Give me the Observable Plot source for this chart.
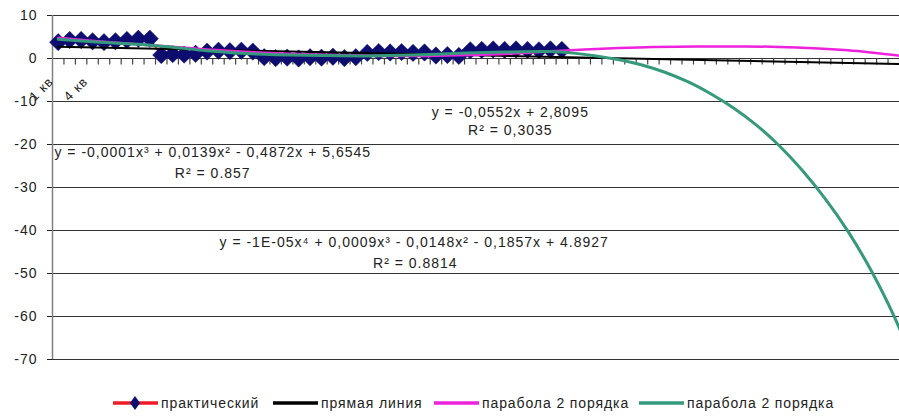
<!DOCTYPE html>
<html><head><meta charset="utf-8">
<script src="https://cdn.jsdelivr.net/npm/d3@7"></script>
<script src="https://cdn.jsdelivr.net/npm/@observablehq/plot@0.6"></script>
<style>
body{margin:0;background:#fff;font-family:"Liberation Sans",Arial,sans-serif;}
#wrap{position:relative;width:899px;height:418px;overflow:hidden;}
#chart svg text{letter-spacing:1px;}
.lg{position:absolute;top:393px;height:20px;display:flex;align-items:center;font-size:14px;letter-spacing:0.9px;color:#222;white-space:nowrap;}
.lg svg{margin-right:3px;}
</style></head><body>
<div id="wrap"><div id="chart"></div><div id="legend"></div></div>
<script>
// ---- data ----
const practicalValues = [
  3.8, 4.3, 4.3, 4.0, 3.8, 4.0, 4.3, 4.6, 4.6,
  0.8, 1.0, 0.9, 1.1,
  1.6, 1.8, 1.7, 1.8, 1.6,
  0.3, 0.1, 0.2, 0.0, 0.3, 0.2, 0.4, 0.1, 0.3,
  1.3, 1.5, 1.4, 1.5, 1.3, 1.4,
  0.7, 0.8, 0.6,
  1.9, 2.0, 2.1, 2.0, 2.1, 2.0, 1.9, 2.1, 2.0
];
const linearX = [1, 75];
const linearY = [2.75, -1.33];
const cubicX = [1, 5, 9, 13, 17, 21, 25, 29, 33, 37, 41, 44, 47, 50, 53, 57, 61, 64, 67, 70, 72, 74, 75];
const cubicY = [4.8, 3.9, 3.1, 2.3, 1.6, 1.1, 0.8, 0.6, 0.6, 0.8, 1.2, 1.7, 2.1, 2.45, 2.7, 2.8, 2.8, 2.7, 2.4, 1.9, 1.4, 0.8, 0.4];
const quarticX = [1, 4, 8, 11, 14, 17, 20, 24, 28, 32, 36, 40, 44, 46, 48, 50, 52, 54, 56, 58, 60, 62, 64, 66, 68, 70, 72, 74, 75];
const quarticY = [4.5, 3.9, 3.3, 2.6, 1.8, 1.2, 0.9, 0.7, 0.6, 0.8, 1.2, 1.5, 1.6, 1.25, 0.6, -0.3, -1.5, -3.2, -5.4, -8.2, -11.5, -15.5, -20.3, -26, -32.6, -40.2, -49.2, -59.8, -66];
const xLabelText = ["1 кв", "4 кв"];
const xLabelAt = [1, 4];
const yTicks = [10, 0, -10, -20, -30, -40, -50, -60, -70];
const categoryCount = 74;
const eqText = [
  "y = -0,0552x + 2,8095", "R² = 0,3035",
  "y = -0,0001x³ + 0,0139x² - 0,4872x + 5,6545", "R² = 0.857",
  "y = -1E-05x⁴ + 0,0009x³ - 0,0148x² - 0,1857x + 4.8927", "R² = 0.8814"
];
const eqX = [40.5, 40.5, 14.5, 14.5, 32.1, 32.2];
const eqY = [-12.6, -16.7, -21.9, -26.7, -42.7, -47.6];
const legendNames = ["практический", "прямая линия", "парабола 2 порядка", "парабола 2 порядка"];

// ---- build ----
const practical = practicalValues.map((v, i) => ({x: i + 1, y: v}));
const linear = linearX.map((x, i) => ({x, y: linearY[i]}));
const cubic = cubicX.map((x, i) => ({x, y: cubicY[i]}));
const quartic = quarticX.map((x, i) => ({x, y: quarticY[i]}));
const xLabels = xLabelText.map((t, i) => ({x: xLabelAt[i], t}));
const boundaries = d3.range(1, categoryCount + 1).map(i => i + 0.5);
const eqs = eqText.map((t, i) => ({t, x: eqX[i], y: eqY[i]}));

const NAVY = "#0d0d70", RED = "#ee1c25", MAG = "#ee22dd", TEAL = "#35997c";
const tickSymbol = {draw(ctx) { ctx.moveTo(0, 0); ctx.lineTo(0, 6); }};

const chart = Plot.plot({
  width: 899, height: 380,
  marginLeft: 52, marginRight: 0, marginTop: 15, marginBottom: 21,
  style: {fontSize: "14px", fontFamily: "'Liberation Sans', Arial, sans-serif", color: "#222", background: "#fff"},
  x: {domain: [0.5, categoryCount + 0.5], axis: null},
  y: {domain: [-70, 10], ticks: yTicks, tickSize: 5, tickPadding: 10, tickFormat: d => String(d), label: null},
  marks: [
    Plot.ruleY(yTicks, {stroke: "#333", strokeWidth: 1}),
    Plot.ruleX([0.5], {stroke: "#808080", strokeWidth: 1.5}),
    Plot.dot(boundaries, {x: d => d, y: d => 0, symbol: tickSymbol, stroke: "#444", strokeWidth: 1.2, fill: "none", r: 3}),
    Plot.text(xLabels, {x: "x", y: d => 0, text: "t", rotate: -45, textAnchor: "end", dx: -7, dy: 21, fontSize: 13, fill: "#222"}),
    Plot.line(practical, {x: "x", y: "y", stroke: RED, strokeWidth: 2}),
    Plot.dot(practical, {x: "x", y: "y", symbol: "diamond2", r: 7.8, fill: NAVY, stroke: NAVY, strokeWidth: 0.5}),
    Plot.line(linear, {x: "x", y: "y", stroke: "#000", strokeWidth: 2, clip: true}),
    Plot.line(cubic, {x: "x", y: "y", stroke: MAG, strokeWidth: 2.5, curve: "catmull-rom", clip: true}),
    Plot.line(quartic, {x: "x", y: "y", stroke: TEAL, strokeWidth: 3, curve: "catmull-rom", clip: true}),
    Plot.text(eqs, {x: "x", y: "y", text: "t", textAnchor: "middle", fontSize: 14, fill: "#222"})
  ]
});
document.getElementById("chart").appendChild(chart);

// legend
const legend = document.getElementById("legend");
const swatchLeft = [113, 273, 434, 639];
const swatchColor = [RED, "#000", MAG, TEAL];
legendNames.forEach((name, i) => {
  const item = document.createElement("div");
  item.className = "lg";
  item.style.left = swatchLeft[i] + "px";
  const marker = i === 0 ? '<path d="M22,2 L27,9 L22,16 L17,9 Z" fill="' + NAVY + '"/>' : '';
  item.innerHTML = '<svg width="45" height="18"><line x1="0" x2="45" y1="9" y2="9" stroke="' + swatchColor[i] + '" stroke-width="3.5"/>' + marker + '</svg><span>' + name + '</span>';
  legend.appendChild(item);
});
</script>
</body></html>
